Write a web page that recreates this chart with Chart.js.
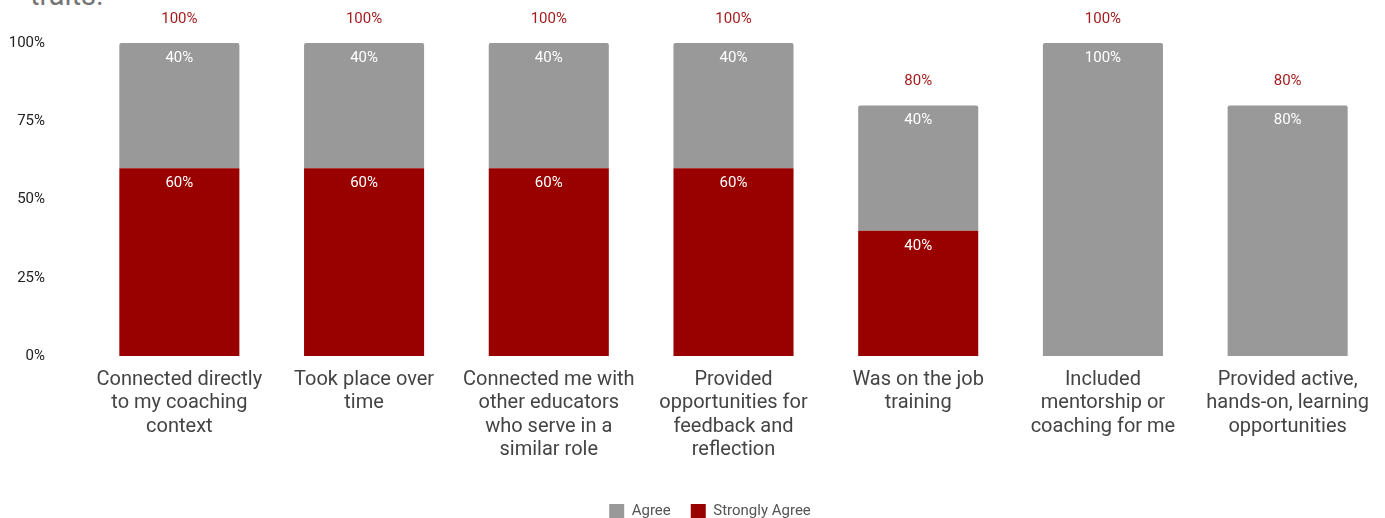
<!DOCTYPE html>
<html>
<head>
<meta charset="utf-8">
<script src="https://cdn.jsdelivr.net/npm/chart.js@4/dist/chart.umd.min.js"></script>
<style>
  html, body { margin: 0; padding: 0; background: #fff; overflow: hidden; }
  #wrap { position: relative; width: 1385px; height: 518px; overflow: hidden; }
  #title { position: absolute; left: 30px; top: -22px; font: 29px Roboto, sans-serif; color: #757575; white-space: nowrap; }
  canvas { position: absolute; left: 0; top: 0; }
</style>
</head>
<body>
<div id="wrap">
  <div id="title">traits.</div>
  <canvas id="chart" width="1385" height="529"></canvas>
</div>
<script>
// ---- data ----
const categories = [
  ["Connected directly", "to my coaching", "context"],
  ["Took place over", "time"],
  ["Connected me with", "other educators", "who serve in a", "similar role"],
  ["Provided", "opportunities for", "feedback and", "reflection"],
  ["Was on the job", "training"],
  ["Included", "mentorship or", "coaching for me"],
  ["Provided active,", "hands-on, learning", "opportunities"],
];
const stronglyAgree = [60, 60, 60, 60, 40, 0, 0];
const agree = [40, 40, 40, 40, 40, 100, 80];
const yTicks = [0, 25, 50, 75, 100];

const RED = "#990000";
const GRAY = "#999999";

// ---- labels inside segments + totals above stacks ----
const barLabels = {
  id: "barLabels",
  beforeDraw(chart) {
    // legend sits a bit right of centre in the original
    if (!chart.legend._shifted) {
      chart.legend.left += 20;
      chart.legend.right += 20;
      chart.legend._shifted = true;
    }
  },
  afterDatasetsDraw(chart) {
    const ctx = chart.ctx;
    ctx.save();
    ctx.textAlign = "center";
    ctx.textBaseline = "middle";
    ctx.font = "15px Roboto, sans-serif";
    ctx.fillStyle = "#ffffff";
    chart.data.datasets.forEach((ds, i) => {
      const meta = chart.getDatasetMeta(i);
      meta.data.forEach((bar, j) => {
        if (!ds.data[j]) return;
        ctx.fillText(ds.data[j] + "%", bar.x, bar.y + 15);
      });
    });
    // totals
    ctx.fillStyle = "#a61c1c";
    const y = chart.scales.y;
    categories.forEach((c, j) => {
      const total = stronglyAgree[j] + agree[j];
      const x = chart.scales.x.getPixelForValue(j);
      ctx.fillText(total + "%", x, y.getPixelForValue(total) - 24);
    });
    ctx.restore();
  },
};

new Chart(document.getElementById("chart").getContext("2d"), {
  type: "bar",
  data: {
    labels: categories,
    datasets: [
      { label: "Strongly Agree", data: stronglyAgree, backgroundColor: RED },
      { label: "Agree", data: agree, backgroundColor: GRAY, borderRadius: { topLeft: 2, topRight: 2 }, borderSkipped: "bottom" },
    ],
  },
  options: {
    responsive: false,
    animation: false,
    devicePixelRatio: 1,
    layout: { padding: { top: 26, right: 5, left: 0, bottom: 0 } },
    datasets: { bar: { categoryPercentage: 1, barPercentage: 0.65 } },
    scales: {
      x: {
        stacked: true,
        grid: { display: false },
        border: { display: false },
        ticks: {
          color: "#444444",
          font: { family: "Roboto, sans-serif", size: 20, lineHeight: 1.17 },
          padding: 4,
          maxRotation: 0,
          autoSkip: false,
        },
        afterFit(scale) { scale.height = 128; },
      },
      y: {
        stacked: true,
        min: 0,
        max: 100,
        afterBuildTicks(scale) { scale.ticks = yTicks.map((v) => ({ value: v })); },
        grid: { display: false },
        border: { display: false },
        ticks: {
          color: "#222222",
          font: { family: "Roboto, sans-serif", size: 15 },
          padding: 34,
          callback: (v) => v + "%",
        },
        afterFit(scale) { scale.width = 87; },
      },
    },
    plugins: {
      legend: {
        position: "bottom",
        reverse: true,
        labels: {
          color: "#555555",
          font: { family: "Roboto, sans-serif", size: 15 },
          boxWidth: 15,
          boxHeight: 15,
          padding: 20,
        },
      },
      tooltip: { enabled: false },
    },
  },
  plugins: [barLabels],
});
</script>
</body>
</html>
